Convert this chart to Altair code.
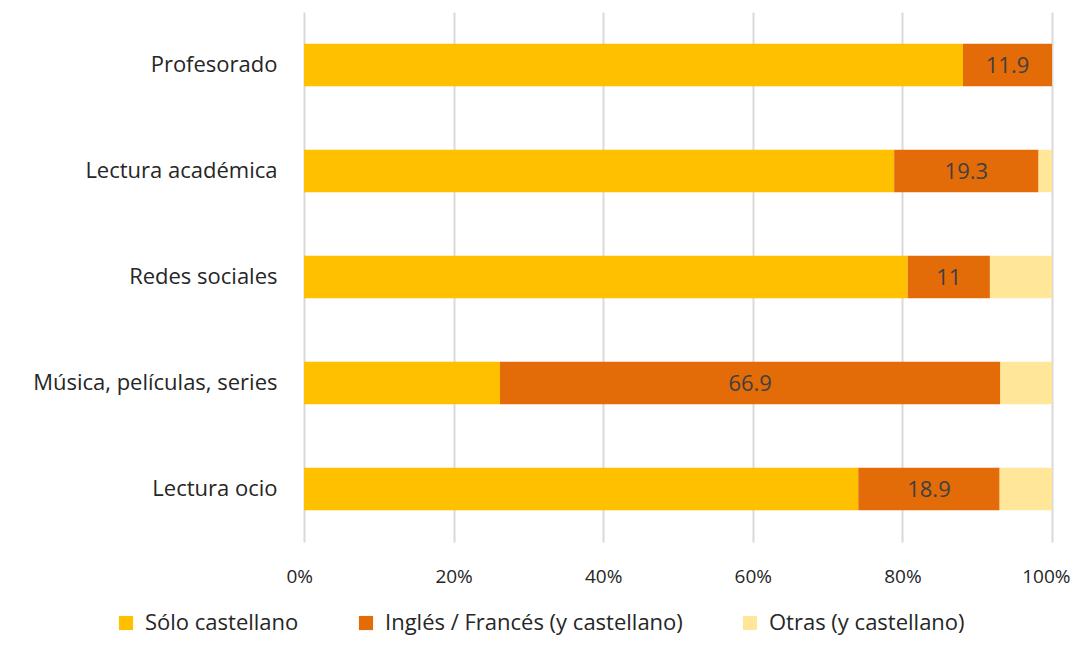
import altair as alt
import pandas as pd

categories = ["Profesorado", "Lectura académica", "Redes sociales", "Música, películas, series", "Lectura ocio"]
series = ["Sólo castellano", "Inglés / Francés (y castellano)", "Otras (y castellano)"]
solo = [88.1, 78.9, 80.7, 26.2, 74.1]
ingles = [11.9, 19.3, 11.0, 66.9, 18.9]
otras = [0.0, 1.8, 8.3, 6.9, 7.0]
colors = ["#FFC000", "#E36C09", "#FFE699"]
x_ticks = [0, 20, 40, 60, 80, 100]

rows = []
for i, c in enumerate(categories):
    for j, (s, vals) in enumerate(zip(series, [solo, ingles, otras])):
        rows.append({"cat": c, "serie": s, "order": j, "value": vals[i]})
df = pd.DataFrame(rows)

FONT = "Open Sans"
FS = 22

base = alt.Chart(df).transform_stack(
    stack="value", as_=["x0", "x1"], groupby=["cat"], sort=[alt.SortField("order")]
).transform_calculate(mid="(datum.x0 + datum.x1) / 2")

y_enc = alt.Y("cat:N", sort=categories, title=None,
              scale=alt.Scale(paddingInner=0.6, paddingOuter=0.3),
              axis=alt.Axis(labelFont=FONT, labelFontSize=FS, labelColor="#262626",
                            labelPadding=27, ticks=False, domain=False, labelLimit=400))

bars = base.mark_bar().encode(
    x=alt.X("x0:Q", title=None, scale=alt.Scale(domain=[0, 100], nice=False),
            axis=alt.Axis(values=x_ticks, labelExpr="datum.value + '%'",
                          labelFont=FONT, labelFontSize=19, labelColor="#262626",
                          labelPadding=25, labelFlush=True, labelFlushOffset=18,
                          ticks=False, domain=False,
                          grid=True, gridColor="#d9d9d9", gridWidth=2)),
    x2="x1:Q",
    y=y_enc,
    color=alt.Color("serie:N", sort=series,
                    scale=alt.Scale(domain=series, range=colors),
                    legend=alt.Legend(title=None, orient="none", direction="horizontal",
                                      legendX=-189, legendY=600,
                                      symbolType="square", symbolSize=200,
                                      symbolStrokeWidth=0,
                                      labelFont=FONT, labelFontSize=FS, labelColor="#262626",
                                      columnPadding=56, labelOffset=8,
                                      labelLimit=500)),
    order=alt.Order("order:Q"),
)

labels = base.transform_filter(alt.datum.order == 1).mark_text(
    font=FONT, fontSize=FS, color="#404040", dy=1
).encode(
    x=alt.X("mid:Q"),
    y=alt.Y("cat:N", sort=categories),
    text=alt.Text("value:Q"),
)

chart = alt.layer(bars, labels).properties(
    width=748, height=530,
    padding={"left": 296, "top": 4, "right": 23, "bottom": 97},
    autosize=alt.AutoSizeParams(type="none"),
).configure_view(stroke=None)

chart.save("out.html", embed_options={"renderer": "svg", "actions": False})
